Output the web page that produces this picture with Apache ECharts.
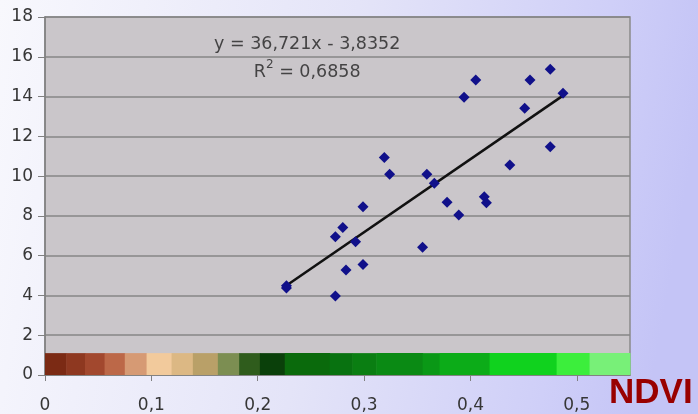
<!DOCTYPE html>
<html>
<head>
<meta charset="utf-8">
<script src="https://cdn.jsdelivr.net/npm/echarts@6/dist/echarts.min.js"></script>
<style>
  html, body { margin: 0; padding: 0; }
  #chart { width: 698px; height: 414px; }
</style>
</head>
<body>
<div id="chart"></div>
<script>
// NDVI (x) against the measured variable (y)
const ndvi = [0.319, 0.324, 0.299, 0.280, 0.273, 0.292, 0.299, 0.283, 0.227, 0.227, 0.273,
              0.475, 0.405, 0.456, 0.394, 0.487, 0.451, 0.475, 0.437, 0.359, 0.366,
              0.378, 0.413, 0.415, 0.389, 0.355];
const values = [10.94, 10.09, 8.46, 7.42, 6.95, 6.70, 5.56, 5.28, 4.49, 4.37, 3.97,
                15.37, 14.83, 14.83, 13.96, 14.16, 13.41, 11.48, 10.56, 10.09, 9.64,
                8.68, 8.96, 8.66, 8.04, 6.42];

// Linear fit shown on the chart
const slope = 36.721;
const intercept = -3.8352;
const rSquared = 0.6858;

// Axis ticks
const xTicks = [0, 0.1, 0.2, 0.3, 0.4, 0.5];
const yTicks = [0, 2, 4, 6, 8, 10, 12, 14, 16, 18];

// NDVI colour scale strip: band edges along x and strip height
const bandEdges = [0, 0.02, 0.0376, 0.056, 0.075, 0.0955, 0.119, 0.139, 0.1625, 0.1825,
                   0.202, 0.2254, 0.2676, 0.289, 0.3115, 0.355, 0.371, 0.418, 0.481, 0.512, 0.55];
const stripHeight = 1.1;

const bandPalette = ['#7b2a14', '#8e3820', '#a2482e', '#bc6848', '#d69a74', '#f2ca9c',
                     '#dcb884', '#b9a068', '#7c8e52', '#2f5c1c', '#0a400a', '#0a6a0c',
                     '#087210', '#0a7e12', '#0a8a14', '#0a9816', '#0cac18', '#10d21e',
                     '#3cee3c', '#78f078'];

const points = ndvi.map((x, i) => [x, values[i]]);
const xMin = Math.min(...ndvi), xMax = Math.max(...ndvi);
const trend = [[xMin, slope * xMin + intercept], [xMax, slope * xMax + intercept]];
const bands = bandEdges.slice(0, -1).map((x0, i) => [x0, bandEdges[i + 1], stripHeight, i]);

// Anchor of the regression caption, in data units
const captionAt = [0.2465, 15.9];

const fmt = (v, d) => v.toFixed(d).replace('.', ',');
const tickFont = { fontFamily: 'DejaVu Sans', fontSize: 17, color: '#363636' };

const chart = echarts.init(document.getElementById('chart'), null, { renderer: 'canvas' });
chart.setOption({
  animation: false,
  backgroundColor: {
    type: 'linear', x: 0, y: 0, x2: 1, y2: 0.3,
    colorStops: [
      { offset: 0, color: '#f8f8fd' },
      { offset: 0.5, color: '#e4e4f8' },
      { offset: 0.85, color: '#cfcff8' },
      { offset: 1, color: '#c4c4f6' }
    ]
  },
  grid: {
    left: 45, right: 68, top: 17, bottom: 39,
    show: true, backgroundColor: '#cac6ca', borderColor: '#8a8a8a', borderWidth: 1.5
  },
  xAxis: {
    type: 'value', min: 0, max: 0.55, interval: 0.1,
    axisLine: { show: true, onZero: false, lineStyle: { color: '#808080', width: 1.5 } },
    axisTick: { show: true, length: 6, customValues: xTicks, lineStyle: { color: '#808080' } },
    axisLabel: { customValues: xTicks, margin: 22, formatter: v => v === 0 ? '0' : fmt(v, 1), ...tickFont },
    splitLine: { show: false }
  },
  yAxis: {
    type: 'value', min: 0, max: 18, interval: 2,
    axisLine: { show: true, lineStyle: { color: '#808080', width: 1.5 } },
    axisTick: { show: true, length: 7, lineStyle: { color: '#808080' } },
    axisLabel: { margin: 12, formatter: v => String(v), ...tickFont },
    splitLine: { show: true, lineStyle: { color: '#868686', width: 1.6 } }
  },
  graphic: [
    {
      type: 'text', left: 609, top: 376, z: 10,
      style: { text: 'NDVI', fill: '#990000', font: 'bold 35px "Liberation Sans", Arial, sans-serif' }
    }
  ],
  series: [
    {
      type: 'custom',
      coordinateSystem: 'cartesian2d',
      z: 1,
      silent: true,
      encode: { x: [0, 1], y: 2 },
      data: bands,
      renderItem: (params, api) => {
        const p0 = api.coord([api.value(0), stripHeight]);
        const p1 = api.coord([api.value(1), 0]);
        return {
          type: 'rect',
          shape: { x: p0[0], y: p0[1], width: p1[0] - p0[0] + 0.5, height: p1[1] - p0[1] },
          style: { fill: bandPalette[api.value(3)] }
        };
      }
    },
    {
      type: 'line',
      data: trend,
      z: 3,
      symbol: 'none',
      lineStyle: { color: '#111', width: 2.5 },
      silent: true
    },
    {
      type: 'scatter',
      data: points,
      z: 4,
      symbol: 'diamond',
      symbolSize: 11,
      itemStyle: { color: '#10108a', opacity: 1 }
    },
    {
      // regression caption
      type: 'scatter',
      data: [captionAt],
      z: 5,
      symbolSize: 0,
      silent: true,
      label: {
        show: true,
        position: 'inside',
        formatter: '{r|y = ' + fmt(slope, 3) + 'x - ' + fmt(-intercept, 4) + '}\n{r|R}{s|2}{r| = ' + fmt(rSquared, 4) + '}',
        align: 'center',
        rich: {
          r: { fontFamily: 'DejaVu Sans', fontSize: 17.5, color: '#222', lineHeight: 28 },
          s: { fontFamily: 'DejaVu Sans', fontSize: 12, color: '#222', lineHeight: 28, verticalAlign: 'top', padding: [0, 0, 6, 0] }
        }
      }
    }
  ]
});
</script>
</body>
</html>
